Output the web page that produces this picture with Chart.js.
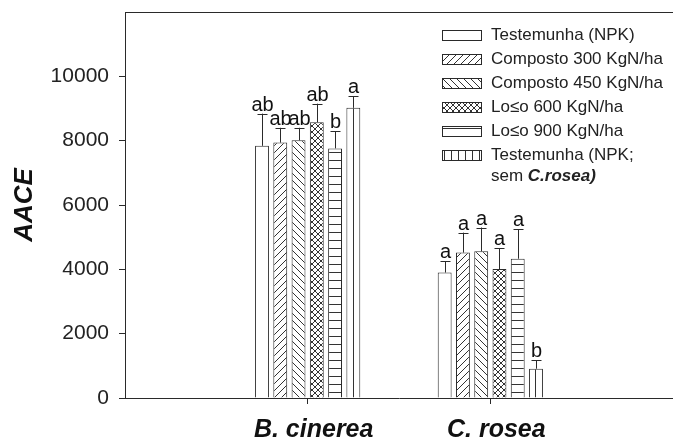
<!DOCTYPE html>
<html>
<head>
<meta charset="utf-8">
<script src="https://cdn.jsdelivr.net/npm/chart.js@4"></script>
<style>
  body{margin:0;background:#fff;}
  #wrap{width:673px;height:442px;position:relative;}
</style>
</head>
<body>
<div id="wrap"><canvas id="chart-aace"></canvas></div>
<script>
// dados
const categorias=['B. cinerea','C. rosea'];
const tratamentos=['Testemunha (NPK)','Composto 300 KgN/ha','Composto 450 KgN/ha','Lo≤o 600 KgN/ha','Lo≤o 900 KgN/ha','Testemunha (NPK; sem C.rosea)'];
const testemunha=[7840,3900];
const composto300=[7940,4520];
const composto450=[8010,4560];
const lodo600=[8570,4010];
const lodo900=[7760,4330];
const testemunhaSem=[9020,910];
const errTestemunha=[1000,350];
const errComposto300=[460,620];
const errComposto450=[390,740];
const errLodo600=[580,640];
const errLodo900=[530,910];
const errTestemunhaSem=[360,270];
const letrasTestemunha=['ab','a'];
const letrasComposto300=['ab','a'];
const letrasComposto450=['ab','a'];
const letrasLodo600=['ab','a'];
const letrasLodo900=['b','a'];
const letrasTestemunhaSem=['a','b'];
const yTicks=[0,2000,4000,6000,8000,10000];

const FONT='"Liberation Sans", Arial, sans-serif';
const INK='#2a2a2a';

function hatch(kind){
  const c=document.createElement('canvas');
  const w=kind==='vert'?7:(kind==='cross'?6:7);
  const h=kind==='horiz'?8:w;
  c.width=w;c.height=h;
  const g=c.getContext('2d');
  g.fillStyle='#fff';g.fillRect(0,0,w,h);
  g.strokeStyle='#333';g.lineWidth=1;
  g.beginPath();
  const fwd=()=>{g.moveTo(-1,h+1);g.lineTo(w+1,-1);g.moveTo(-2,1);g.lineTo(1,-2);g.moveTo(w-1,h+2);g.lineTo(w+2,h-1);};
  const back=()=>{g.moveTo(-1,-1);g.lineTo(w+1,h+1);g.moveTo(w-1,-2);g.lineTo(w+2,1);g.moveTo(-2,h-1);g.lineTo(1,h+2);};
  if(kind==='fwd') fwd();
  if(kind==='back') back();
  if(kind==='cross'){fwd();back();}
  if(kind==='horiz'){g.moveTo(0,0.5);g.lineTo(w,0.5);}
  if(kind==='vert'){g.moveTo(3.5,0);g.lineTo(3.5,h);}
  g.stroke();
  return g.createPattern(c,'repeat');
}

const series=[
  {vals:testemunha,err:errTestemunha,letras:letrasTestemunha,fill:'#fff'},
  {vals:composto300,err:errComposto300,letras:letrasComposto300,fill:hatch('fwd')},
  {vals:composto450,err:errComposto450,letras:letrasComposto450,fill:hatch('back')},
  {vals:lodo600,err:errLodo600,letras:letrasLodo600,fill:hatch('cross')},
  {vals:lodo900,err:errLodo900,letras:letrasLodo900,fill:hatch('horiz')},
  {vals:testemunhaSem,err:errTestemunhaSem,letras:letrasTestemunhaSem,fill:hatch('vert')}
];

const extras={
  id:'extras',
  afterDatasetsDraw(chart){
    const c=chart.ctx, y=chart.scales.y, a=chart.chartArea;
    c.save();
    // moldura superior
    c.strokeStyle=INK;c.lineWidth=1;
    c.beginPath();c.moveTo(a.left,a.top+0.5);c.lineTo(a.right,a.top+0.5);c.stroke();
    series.forEach((s,i)=>{
      const meta=chart.getDatasetMeta(i);
      meta.data.forEach((bar,j)=>{
        const yTop=y.getPixelForValue(s.vals[j]+s.err[j]);
        const x=Math.round(bar.x)+0.5;
        c.strokeStyle=INK;c.lineWidth=1;
        c.beginPath();
        c.moveTo(x,bar.y);c.lineTo(x,yTop);
        c.moveTo(x-5,Math.round(yTop)+0.5);c.lineTo(x+5,Math.round(yTop)+0.5);
        c.stroke();
        c.fillStyle='#111';c.font='20px '+FONT;
        c.textAlign='center';c.textBaseline='alphabetic';
        c.fillText(s.letras[j],x,yTop-3);
      });
    });
    // legenda
    const lx=442,bw=39,bh=10,tx=491;
    c.font='17px '+FONT;c.textBaseline='middle';c.textAlign='left';
    series.forEach((s,i)=>{
      const cy=35+i*24;
      c.fillStyle=s.fill;c.fillRect(lx,cy-bh/2,bw,bh);
      c.strokeStyle=INK;c.strokeRect(lx+0.5,cy-bh/2+0.5,bw,bh);
      c.fillStyle='#222';
      if(i<5) c.fillText(tratamentos[i],tx,cy);
      else{
        c.fillText('Testemunha (NPK;',tx,cy);
        c.fillText('sem ',tx,cy+21);
        const w=c.measureText('sem ').width;
        c.font='bold italic 17px '+FONT;
        c.fillText('C.rosea)',tx+w,cy+21);
      }
    });
    c.restore();
  }
};

new Chart(document.getElementById('chart-aace'),{
  type:'bar',
  data:{
    datasets:series.map((s,i)=>({
      label:tratamentos[i],
      data:s.vals.map((v,j)=>({x:j+1,y:v})),
      backgroundColor:s.fill,
      borderColor:INK,
      borderWidth:1,
      categoryPercentage:0.6,
      barPercentage:0.76
    }))
  },
  options:{
    responsive:true,maintainAspectRatio:false,animation:false,
    layout:{padding:{top:12,right:0,left:0,bottom:0}},
    plugins:{legend:{display:false},tooltip:{enabled:false}},
    scales:{
      x:{
        type:'linear',min:0,max:3,offset:false,
        afterBuildTicks:sc=>{sc.ticks=categorias.map((_,i)=>({value:i+1}));},
        afterFit:sc=>{sc.height=44;sc.paddingLeft=0;sc.paddingRight=0;},
        grid:{offset:false,drawOnChartArea:false,drawTicks:true,tickLength:6,color:INK},
        border:{display:true,color:INK,width:1},
        ticks:{
          callback:v=>categorias[v-1]||'',
          font:{family:FONT,size:25,weight:'bold',style:'italic'},
          color:'#111',padding:11,labelOffset:6,maxRotation:0
        }
      },
      y:{
        min:0,max:12000,
        afterBuildTicks:sc=>{sc.ticks=yTicks.map(v=>({value:v}));},
        afterFit:sc=>{sc.width=125;sc.paddingTop=0;sc.paddingBottom=0;},
        grid:{drawOnChartArea:false,drawTicks:true,tickLength:6,color:INK},
        border:{display:true,color:INK,width:1},
        ticks:{callback:v=>String(v),font:{family:FONT,size:21},color:'#222',padding:10},
        title:{display:true,text:'AACE',font:{family:FONT,size:26,weight:'bold',style:'italic'},color:'#111',padding:{top:9,bottom:0}}
      }
    }
  },
  plugins:[extras]
});
</script>
</body>
</html>
